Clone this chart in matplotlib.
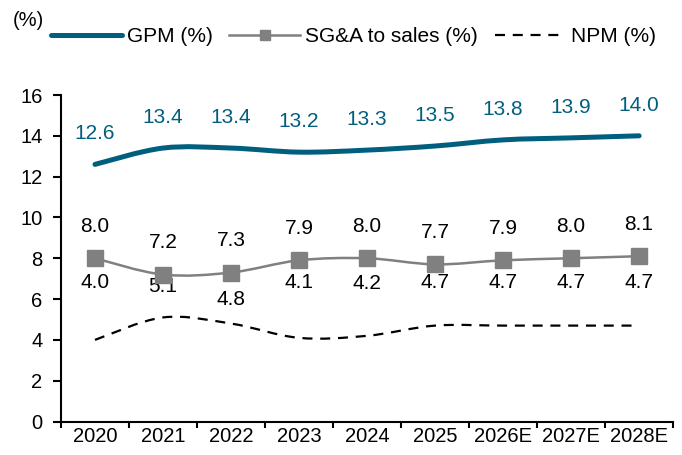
import matplotlib
matplotlib.use("Agg")
import matplotlib.pyplot as plt
from matplotlib.path import Path
from matplotlib.patches import PathPatch
from matplotlib.lines import Line2D
import numpy as np

plt.rcParams['font.family'] = ['Liberation Sans', 'DejaVu Sans']

years = ["2020", "2021", "2022", "2023", "2024", "2025", "2026E", "2027E", "2028E"]
gpm = [12.6, 13.4, 13.4, 13.2, 13.3, 13.5, 13.8, 13.9, 14.0]
sga = [8.0, 7.2, 7.3, 7.9, 8.0, 7.7, 7.9, 8.0, 8.1]
npm = [4.0, 5.1, 4.8, 4.1, 4.2, 4.7, 4.7, 4.7, 4.7]

# label vertical offsets (points) for NPM labels as placed in the reference
npm_label_off = [41, 22, 17, 40, 38, 31, 31, 31, 31]

teal = "#005F7F"
gray = "#808080"


def smooth_path(xs, ys):
    """Excel-style smoothed line: cubic Bezier segments through the data points."""
    p = np.column_stack([xs, ys]).astype(float)
    n = len(p)
    verts = [p[0]]
    codes = [Path.MOVETO]
    for i in range(n - 1):
        p0 = p[i - 1] if i > 0 else p[i]
        p1 = p[i]
        p2 = p[i + 1]
        p3 = p[i + 2] if i + 2 < n else p[i + 1]
        c1 = p1 + (p2 - p0) / 6.0
        c2 = p2 - (p3 - p1) / 6.0
        verts += [c1, c2, p2]
        codes += [Path.CURVE4] * 3
    return Path(verts, codes)


fig = plt.figure(figsize=(6.82, 4.55), dpi=100)
ax = fig.add_axes([0.0894, 0.0736, 0.8976, 0.7176])
x = np.arange(len(years))

ax.add_patch(PathPatch(smooth_path(x, gpm), fill=False, edgecolor=teal, lw=3.6,
                       capstyle='round', zorder=3))
ax.add_patch(PathPatch(smooth_path(x, sga), fill=False, edgecolor=gray, lw=1.8, zorder=3))
ax.plot(x, sga, ls='none', marker='s', ms=11, mfc=gray, mec=gray, zorder=4)
ax.add_patch(PathPatch(smooth_path(x, npm), fill=False, edgecolor='black', lw=1.6,
                       linestyle=(0, (4.5, 3.5)), zorder=3))

for i in x:
    ax.annotate(f"{gpm[i]:.1f}", (i, gpm[i]), xytext=(0, 22), textcoords='offset points',
                ha='center', va='center', fontsize=15, color=teal)
    ax.annotate(f"{sga[i]:.1f}", (i, sga[i]), xytext=(0, 23), textcoords='offset points',
                ha='center', va='center', fontsize=15, color='black')
    ax.annotate(f"{npm[i]:.1f}", (i, npm[i]), xytext=(0, npm_label_off[i]), textcoords='offset points',
                ha='center', va='center', fontsize=15, color='black')

ax.set_xlim(-0.5, len(years) - 0.5)
ax.set_ylim(0, 16)
ax.set_yticks(np.arange(0, 17, 2))
ax.set_xticks(x)
ax.set_xticklabels(years, fontsize=14.5)
ax.set_xticks(np.arange(-0.5, len(years), 1), minor=True)
ax.tick_params(axis='x', which='major', length=0, pad=4)
ax.tick_params(axis='x', which='minor', length=4.5, width=1.5, direction='out')
ax.tick_params(axis='y', length=5.8, width=1.5, direction='out', labelsize=14.5, pad=7.5)
for s in ['top', 'right']:
    ax.spines[s].set_visible(False)
for s in ['left', 'bottom']:
    ax.spines[s].set_linewidth(1.5)

fig.text(0.019, 0.955, "(%)", fontsize=14.5, ha='left', va='center')
handles = [
    Line2D([], [], color=teal, lw=3.6, solid_capstyle='round'),
    Line2D([], [], color=gray, lw=1.8, marker='s', ms=7.5, mfc=gray, mec=gray),
    Line2D([], [], color='black', lw=1.6, ls=(0, (4.5, 3.5))),
]
labels = ["GPM (%)", "SG&A to sales (%)", "NPM (%)"]
fig.legend(handles, labels, loc='center', bbox_to_anchor=(0.518, 0.919), ncol=3, frameon=False,
           prop={'size': 15}, handlelength=3.4, columnspacing=0.8,
           handletextpad=0.25)

fig.savefig("out.png", dpi=100)
